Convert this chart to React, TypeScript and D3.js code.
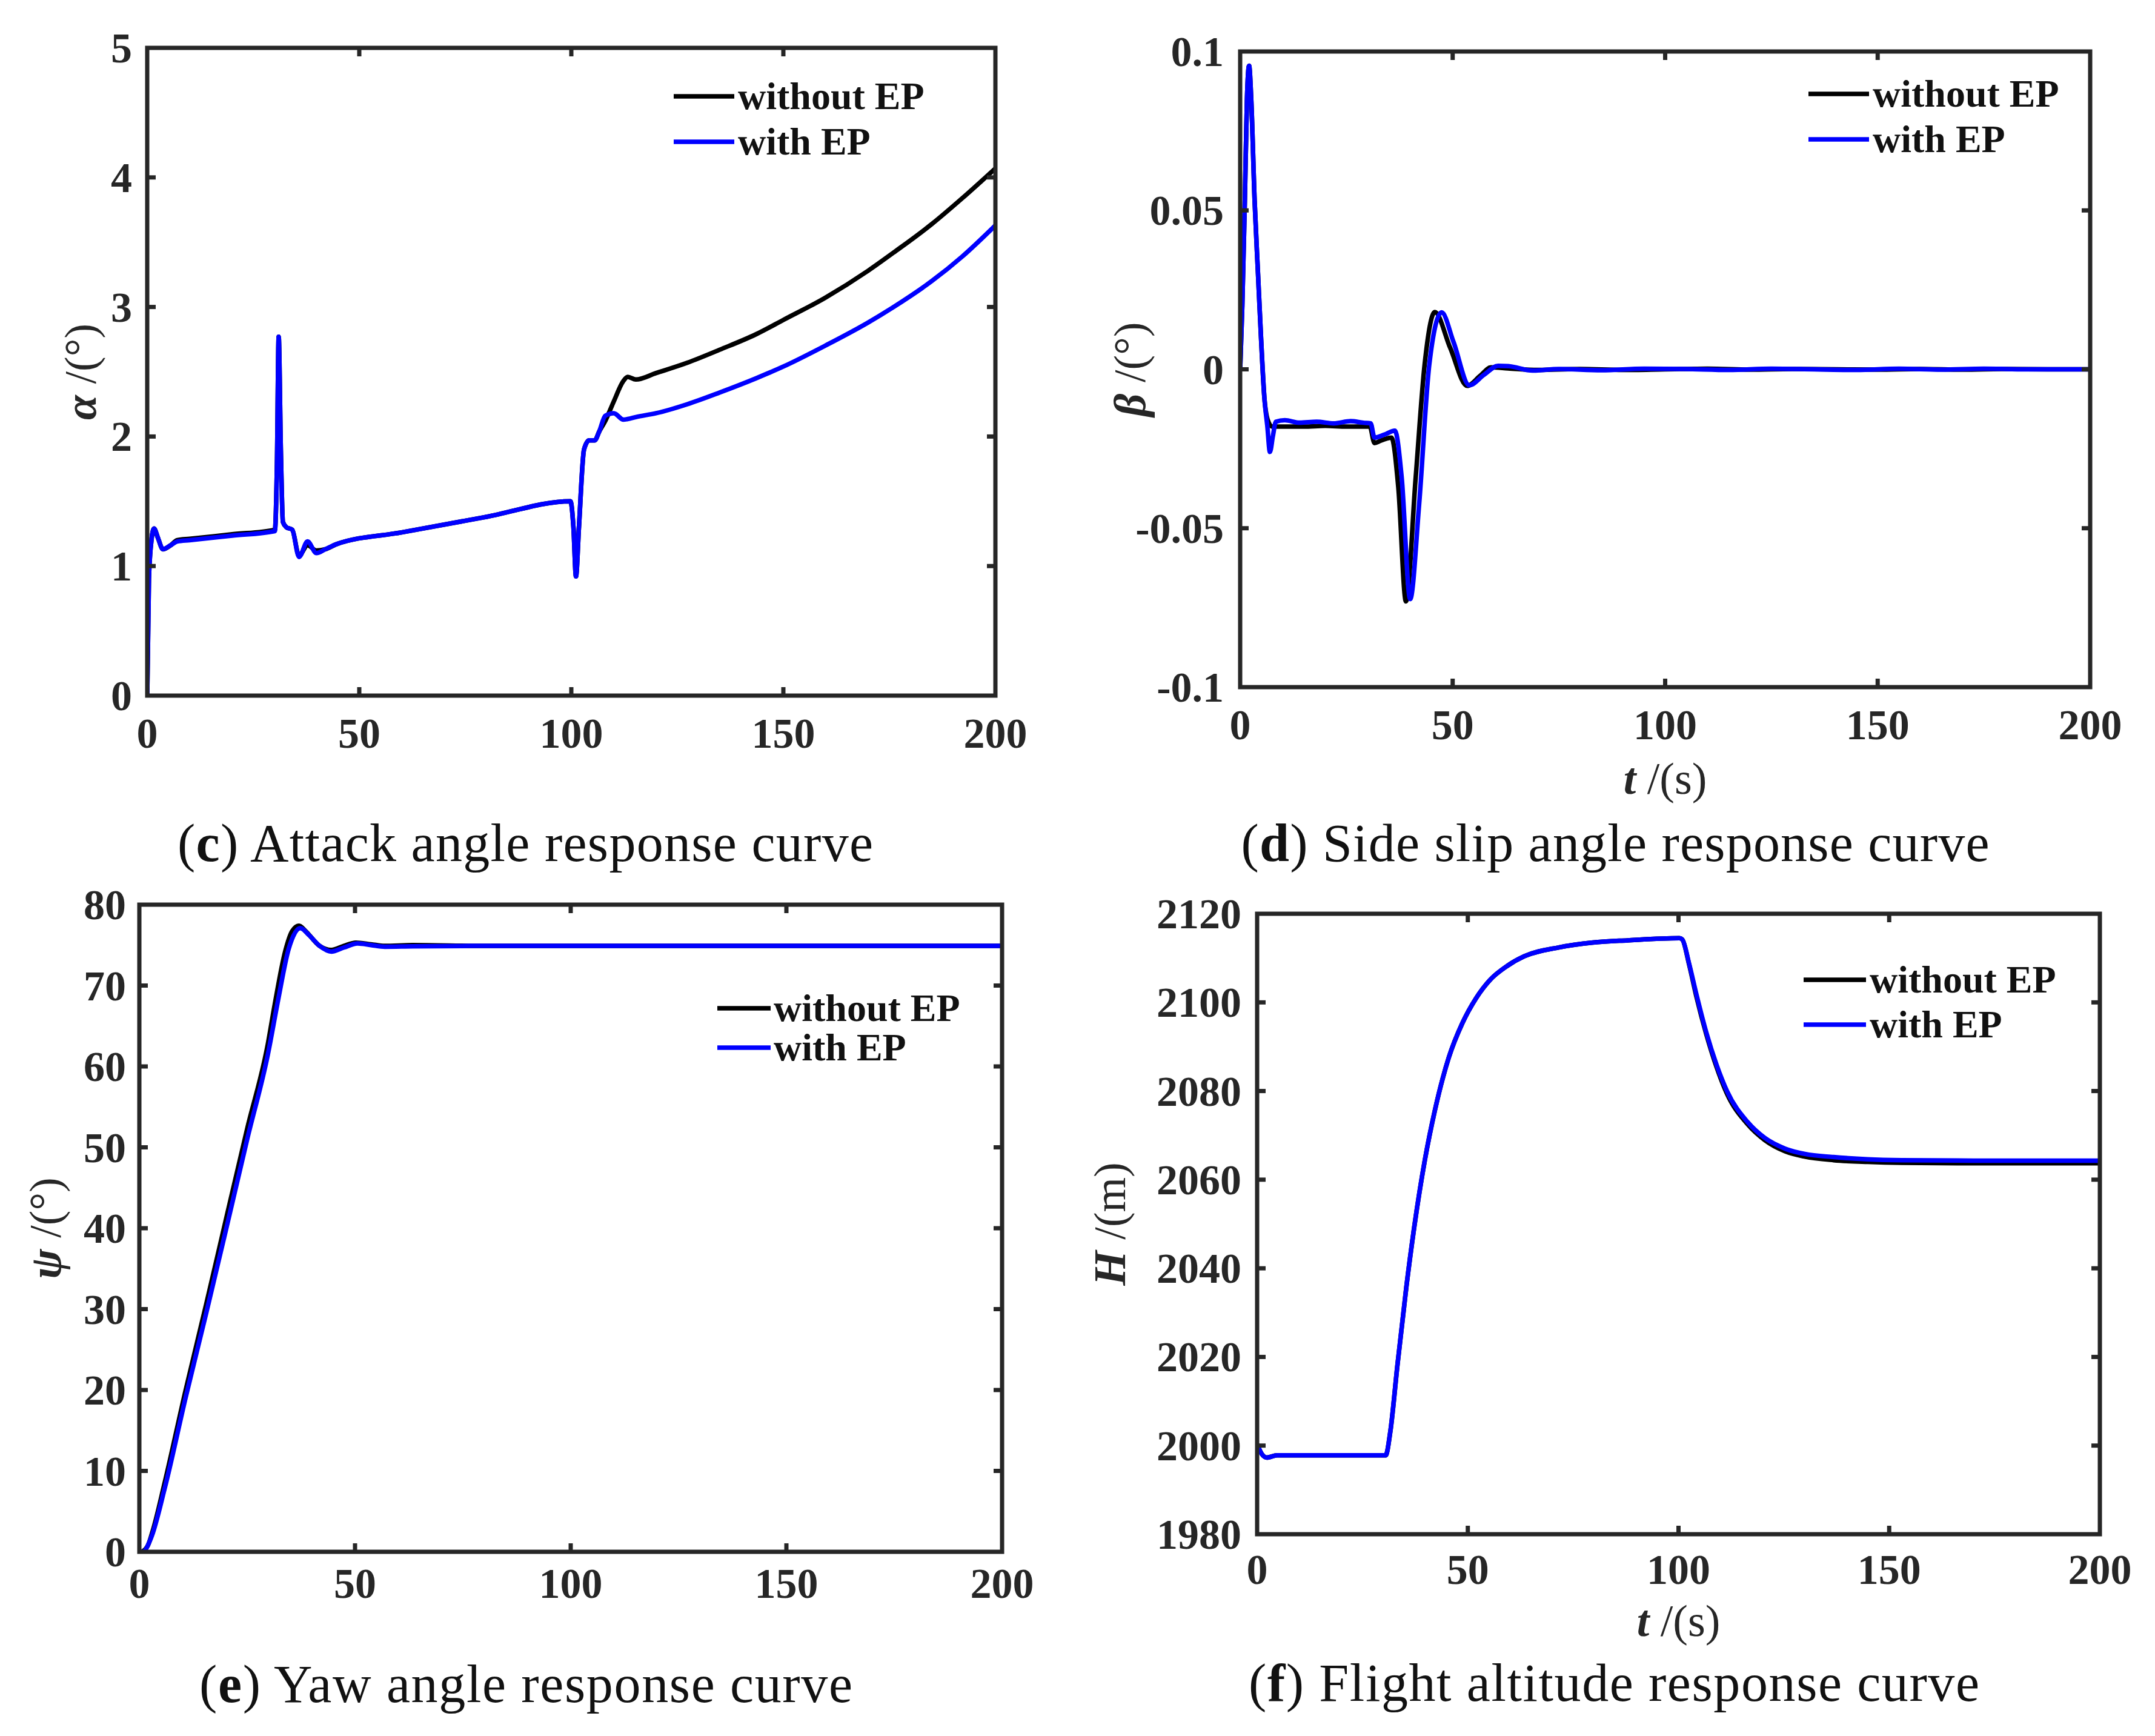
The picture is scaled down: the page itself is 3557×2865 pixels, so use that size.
import React from 'react';
import * as d3 from 'd3';

// (c) attack angle
const alphaT = [0, 0.4, 1.0, 1.6, 2.5, 3.7, 5.5, 7.1, 10, 20, 30.1, 30.6, 31.0, 31.5, 32.0, 32.8, 34.2, 35.8, 37.8, 39.9, 42, 44.7, 60, 80, 99.8, 100.5, 101.1, 101.8, 103, 104.2, 105.5, 106.6, 108, 110, 112.3, 113.3, 115.2, 120, 127.4, 135, 143.6, 150, 159.8, 170, 176, 185, 192.2, 200];
const alphaBlack = [0, 0.9, 1.2, 1.29, 1.22, 1.13, 1.16, 1.2, 1.21, 1.245, 1.28, 1.8, 2.77, 1.9, 1.34, 1.3, 1.28, 1.08, 1.16, 1.12, 1.13, 1.17, 1.26, 1.38, 1.5, 1.3, 0.92, 1.3, 1.9, 1.97, 1.97, 2.04, 2.12, 2.27, 2.43, 2.46, 2.44, 2.49, 2.57, 2.67, 2.79, 2.9, 3.07, 3.28, 3.42, 3.64, 3.84, 4.07];
const alphaBlue = [0, 0.9, 1.2, 1.29, 1.22, 1.13, 1.16, 1.19, 1.2, 1.235, 1.27, 1.8, 2.77, 1.9, 1.34, 1.3, 1.28, 1.07, 1.19, 1.1, 1.13, 1.17, 1.26, 1.38, 1.5, 1.3, 0.92, 1.3, 1.9, 1.97, 1.97, 2.04, 2.16, 2.18, 2.13, 2.135, 2.15, 2.18, 2.25, 2.34, 2.45, 2.54, 2.7, 2.88, 3.0, 3.2, 3.39, 3.63];

// (d) side slip angle
const betaTBlack = [0, 0.5, 1.1, 1.6, 2.1, 2.6, 3.4, 4.2, 4.9, 5.7, 6.5, 7.5, 10, 15, 20, 25, 30.5, 31.6, 33, 35.6, 37.2, 39, 41.3, 43.4, 45.8, 49.4, 53.4, 56.5, 59, 63, 70, 80, 90, 100, 110, 120, 130, 140, 150, 160, 170, 180, 190, 200];
const betaBlack = [0, 0.02, 0.053, 0.085, 0.0955, 0.085, 0.053, 0.03, 0.01, -0.009, -0.016, -0.018, -0.018, -0.018, -0.0178, -0.018, -0.018, -0.0232, -0.0225, -0.0215, -0.037, -0.073, -0.034, 0.0015, 0.018, 0.0068, -0.0052, -0.002, 0.0006, 0.0003, -0.0002, 0.0001, -0.0002, 0, 0.0002, -0.0001, 0.0001, 0, -0.0001, 0.0001, -0.0001, 0.0001, 0, 0];
const betaTBlue = [0, 0.5, 1.1, 1.6, 2.1, 2.6, 3.4, 4.2, 4.9, 5.7, 6.4, 7.0, 7.7, 8.4, 10.5, 14, 18, 22, 26, 29, 30.7, 31.6, 34, 36.4, 38, 40, 42.1, 44.5, 47.4, 50.2, 53.9, 57.4, 60.7, 63.1, 68.8, 75, 85, 95, 105, 115, 125, 135, 145, 155, 165, 175, 185, 200];
const betaBlue = [0, 0.02, 0.053, 0.085, 0.0955, 0.085, 0.053, 0.03, 0.0103, -0.009, -0.018, -0.026, -0.021, -0.0165, -0.016, -0.0168, -0.0165, -0.017, -0.0163, -0.0168, -0.017, -0.0215, -0.0205, -0.0193, -0.034, -0.0723, -0.0426, 0.0015, 0.0179, 0.0086, -0.005, -0.0017, 0.0011, 0.001, -0.0004, 0.0001, -0.0003, 0.0002, 0.0001, -0.0002, 0.0002, 0, -0.0002, 0.0002, -0.0001, 0.0002, 0, 0];

// (e) yaw angle
const psiTBlack = [0, 0.3, 1.9, 3.0, 5.9, 10.7, 15.5, 20.3, 25, 29.8, 31.4, 33.8, 35.4, 37, 38.6, 41.8, 44.5, 47.4, 50.2, 53.7, 56.9, 63.3, 80, 100, 200];
const psiBlack = [0, 0, 0.7, 2.4, 8.6, 19.9, 30.6, 41.6, 52.3, 62.8, 67.7, 74.2, 76.7, 77.4, 76.7, 74.9, 74.4, 74.9, 75.3, 75.1, 74.9, 75.0, 74.9, 74.9, 74.9];
const psiTBlue = [0, 0.8, 2.7, 5.9, 10.7, 15.5, 20.3, 25, 29.8, 32.2, 34.6, 37.3, 39.4, 41.8, 44.5, 47.4, 50.6, 53.7, 56.9, 63.3, 80, 100, 200];
const psiBlue = [0, 0, 1.7, 7.9, 19, 29.5, 40.3, 51.0, 61.5, 68.3, 74.5, 77.1, 76.2, 74.9, 74.2, 74.7, 75.2, 75.0, 74.8, 74.85, 74.9, 74.9, 74.9];

// (f) flight altitude
const hT = [0, 1.1, 2.3, 4.7, 10, 20, 30.5, 31.6, 33.3, 35.4, 37.3, 39.8, 42.2, 45.5, 48.7, 52, 55.3, 59.3, 63.4, 71.6, 79.7, 87.9, 100.2, 100.9, 102.5, 104.2, 106.6, 109, 111.5, 116.4, 120.5, 125.3, 130, 136.8, 144.9, 153, 170, 200];
const hBlack = [2000.3, 1998.1, 1997.3, 1997.8, 1997.8, 1997.8, 1997.8, 2003.1, 2018.2, 2035.7, 2049.4, 2064.4, 2075.7, 2087.6, 2095.3, 2101, 2105.1, 2108.2, 2110.4, 2112.4, 2113.5, 2114, 2114.5, 2114.2, 2108.6, 2101.5, 2092.8, 2085.5, 2079.4, 2072.5, 2068.9, 2066.4, 2065.2, 2064.4, 2064.0, 2063.8, 2063.7, 2063.7];
const hBlue = [2000.3, 1998.1, 1997.3, 1997.8, 1997.8, 1997.8, 1997.8, 2003.1, 2018.2, 2035.7, 2049.4, 2064.4, 2075.7, 2087.6, 2095.3, 2101, 2105.1, 2108.2, 2110.4, 2112.4, 2113.5, 2114, 2114.5, 2114.2, 2108.8, 2102, 2093.2, 2086, 2080, 2073, 2069.4, 2067, 2065.8, 2065.1, 2064.6, 2064.4, 2064.3, 2064.3];

const xTicks = [0, 50, 100, 150, 200];
const alphaTicks = [0, 1, 2, 3, 4, 5];
const betaTicks = [-0.1, -0.05, 0, 0.05, 0.1];
const psiTicks = [0, 10, 20, 30, 40, 50, 60, 70, 80];
const hTicks = [1980, 2000, 2020, 2040, 2060, 2080, 2100, 2120];
const legendNames = ['without EP', 'with EP'];

const AXIS = '#262626';
const SERIF = '"Liberation Serif", "Times New Roman", serif';

interface Series { t: number[]; v: number[]; color: string }

interface PanelProps {
  id: string;
  box: [number, number, number, number]; // left, right, top, bottom
  yDomain: [number, number];
  yTicks: number[];
  xLabelGap: number;
  yLabelGap: number;
  ySym: string;
  yUnit: string;
  yLabelX: number;
  xLabelY?: number;
  legend: [number, number, number, number, number]; // line x0, line x1, text x, row1 y, row2 y
  captionLetter: string;
  captionText: string;
  captionX: number;
  captionY: number;
  captionW: number;
  series: Series[];
}

const Panel: React.FC<PanelProps> = (p) => {
  const [l, r, t, b] = p.box;
  const x = d3.scaleLinear().domain([0, 200]).range([l, r]);
  const y = d3.scaleLinear().domain(p.yDomain).range([b, t]);
  const line = d3.line<[number, number]>()
    .x(d => x(d[0]))
    .y(d => y(d[1]))
    .curve(d3.curveMonotoneX);
  const tick = 14;
  const innerX = xTicks.filter(v => v > 0 && v < 200);
  const innerY = p.yTicks.slice(1, -1);
  const fmt = (v: number) => (Math.abs(v) < 1e-9 ? '0' : String(+v.toFixed(2)));
  const [lx0, lx1, ltx, ly1, ly2] = p.legend;
  const midY = (t + b) / 2;

  return (
    <g>
      <defs>
        <clipPath id={`clip-${p.id}`}>
          <rect x={l} y={t} width={r - l} height={b - t} />
        </clipPath>
      </defs>
      <g clipPath={`url(#clip-${p.id})`}>
        {p.series.map((s, i) => (
          <path
            key={i}
            d={line(s.t.map((tt, k) => [tt, s.v[k]] as [number, number])) || ''}
            fill="none"
            stroke={s.color}
            strokeWidth={7.5}
            strokeLinejoin="round"
          />
        ))}
      </g>
      {/* ticks on all four sides */}
      {innerX.map(v => (
        <g key={`xt${v}`} stroke={AXIS} strokeWidth={7}>
          <line x1={x(v)} x2={x(v)} y1={b} y2={b - tick} />
          <line x1={x(v)} x2={x(v)} y1={t} y2={t + tick} />
        </g>
      ))}
      {innerY.map(v => (
        <g key={`yt${v}`} stroke={AXIS} strokeWidth={7}>
          <line x1={l} x2={l + tick} y1={y(v)} y2={y(v)} />
          <line x1={r} x2={r - tick} y1={y(v)} y2={y(v)} />
        </g>
      ))}
      <rect x={l} y={t} width={r - l} height={b - t} fill="none" stroke={AXIS} strokeWidth={7} />
      {/* tick labels */}
      <g fontFamily={SERIF} fontWeight="bold" fontSize={70} fill={AXIS}>
        {xTicks.map(v => (
          <text key={`xl${v}`} x={x(v)} y={b + p.xLabelGap} textAnchor="middle">{v}</text>
        ))}
        {p.yTicks.map(v => (
          <text key={`yl${v}`} x={l - p.yLabelGap} y={y(v) + 24} textAnchor="end">{fmt(v)}</text>
        ))}
      </g>
      {/* y label */}
      <text
        transform={`translate(${p.yLabelX},${midY}) rotate(-90)`}
        textAnchor="middle"
        fontFamily={SERIF}
        fontSize={74}
        fill={AXIS}
      >
        <tspan fontStyle="italic" fontWeight="bold">{p.ySym}</tspan>
        <tspan>{` /(${p.yUnit})`}</tspan>
      </text>
      {p.xLabelY !== undefined && (
        <text x={(l + r) / 2} y={p.xLabelY} textAnchor="middle" fontFamily={SERIF} fontSize={74} fill={AXIS}>
          <tspan fontStyle="italic" fontWeight="bold">t</tspan>
          <tspan>{' /(s)'}</tspan>
        </text>
      )}
      {/* legend */}
      {p.series.map((s, i) => {
        const ly = i === 0 ? ly1 : ly2;
        return (
          <g key={`lg${i}`}>
            <line x1={lx0} x2={lx1} y1={ly} y2={ly} stroke={s.color} strokeWidth={7.5} />
            <text x={ltx} y={ly + 21} fontFamily={SERIF} fontWeight="bold" fontSize={64} fill="#111">
              {legendNames[i]}
            </text>
          </g>
        );
      })}
      {/* caption */}
      <text
        x={p.captionX}
        y={p.captionY}
        textAnchor="middle"
        fontFamily={SERIF}
        fontSize={88}
        fill="#111"
        textLength={p.captionW}
        lengthAdjust="spacing"
      >
        {'('}
        <tspan fontWeight="bold">{p.captionLetter}</tspan>
        {`) ${p.captionText}`}
      </text>
    </g>
  );
};

const App: React.FC = () => {
  const W = 3557;
  const H = 2865;
  return (
    <svg
      width={W}
      height={H}
      viewBox={`0 0 ${W} ${H}`}
      style={{ position: 'absolute', left: 0, top: 0, display: 'block', background: '#fff' }}
    >
      <rect width={W} height={H} fill="#fff" />
      <Panel
        id="c"
        box={[243, 1643, 79, 1148]}
        yDomain={[0, 5]}
        yTicks={alphaTicks}
        xLabelGap={86}
        yLabelGap={25}
        ySym="α"
        yUnit="°"
        yLabelX={158}
        legend={[1112, 1212, 1218, 159, 234]}
        captionLetter="c"
        captionText="Attack angle response curve"
        captionX={867}
        captionY={1421}
        captionW={1148}
        series={[
          { t: alphaT, v: alphaBlack, color: '#000000' },
          { t: alphaT, v: alphaBlue, color: '#0000ff' },
        ]}
      />
      <Panel
        id="d"
        box={[2047, 3450, 85, 1134]}
        yDomain={[-0.1, 0.1]}
        yTicks={betaTicks}
        xLabelGap={86}
        yLabelGap={27}
        ySym="β"
        yUnit="°"
        yLabelX={1890}
        xLabelY={1310}
        legend={[2985, 3085, 3091, 155, 230]}
        captionLetter="d"
        captionText="Side slip angle response curve"
        captionX={2666}
        captionY={1421}
        captionW={1235}
        series={[
          { t: betaTBlack, v: betaBlack, color: '#000000' },
          { t: betaTBlue, v: betaBlue, color: '#0000ff' },
        ]}
      />
      <Panel
        id="e"
        box={[230, 1654, 1493, 2561]}
        yDomain={[0, 80]}
        yTicks={psiTicks}
        xLabelGap={76}
        yLabelGap={22}
        ySym="ψ"
        yUnit="°"
        yLabelX={100}
        legend={[1184, 1272, 1277, 1664, 1729]}
        captionLetter="e"
        captionText="Yaw angle response curve"
        captionX={868}
        captionY={2809}
        captionW={1078}
        series={[
          { t: psiTBlack, v: psiBlack, color: '#000000' },
          { t: psiTBlue, v: psiBlue, color: '#0000ff' },
        ]}
      />
      <Panel
        id="f"
        box={[2075, 3466, 1508, 2532]}
        yDomain={[1980, 2120]}
        yTicks={hTicks}
        xLabelGap={82}
        yLabelGap={26}
        ySym="H"
        yUnit="m"
        yLabelX={1857}
        xLabelY={2700}
        legend={[2977, 3080, 3086, 1617, 1691]}
        captionLetter="f"
        captionText="Flight altitude response curve"
        captionX={2664}
        captionY={2807}
        captionW={1206}
        series={[
          { t: hT, v: hBlack, color: '#000000' },
          { t: hT, v: hBlue, color: '#0000ff' },
        ]}
      />
    </svg>
  );
};

export default App;
